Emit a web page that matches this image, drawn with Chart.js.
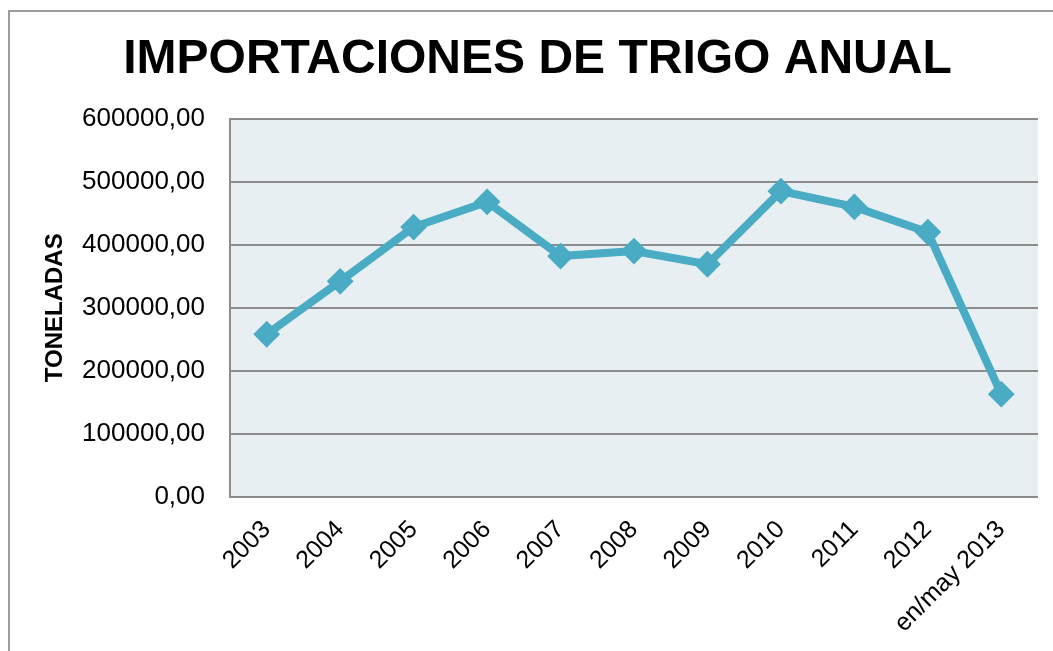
<!DOCTYPE html>
<html>
<head>
<meta charset="utf-8">
<script src="https://cdn.jsdelivr.net/npm/chart.js@4"></script>
<style>
  html, body { margin: 0; padding: 0; background: #fff; overflow: hidden; }
  body { width: 1053px; height: 651px; position: relative; }
  #frame { position: absolute; left: 8px; top: 10px; width: 1100px; height: 700px;
           border-left: 2px solid #9c9c9c; border-top: 2px solid #9c9c9c; }
  #wrap { position: absolute; left: 23px; top: 0; width: 1029px; height: 651px; }
</style>
</head>
<body>
<div id="frame"></div>
<div id="wrap"><canvas id="lineChart" width="1029" height="651"></canvas></div>
<script>
const years = ["2003", "2004", "2005", "2006", "2007", "2008", "2009", "2010", "2011", "2012", "en/may 2013"];
const toneladas = [258000, 342000, 428000, 468000, 382000, 390000, 369000, 485000, 460000, 420000, 163000];
const yTicks = [0, 100000, 200000, 300000, 400000, 500000, 600000];

const myChart = document.getElementById("lineChart");

// fondo gris azulado del area de trazado
const plotBg = {
  id: "plotBg",
  beforeDraw(chart) {
    const { ctx, chartArea } = chart;
    ctx.save();
    ctx.fillStyle = "#e8eff3";
    ctx.fillRect(chartArea.left, chartArea.top, chartArea.right - chartArea.left, chartArea.bottom - chartArea.top);
    ctx.restore();
  },
};

new Chart(myChart, {
  type: "line",
  data: {
    labels: years,
    datasets: [
      {
        label: "Toneladas",
        data: toneladas,
        borderColor: "#4aabc5",
        backgroundColor: "#4aabc5",
        borderWidth: 8,
        pointStyle: "rectRot",
        pointRadius: 12,
        pointBorderWidth: 2,
        pointBackgroundColor: "#4aabc5",
        pointBorderColor: "#4aabc5",
        tension: 0,
      },
    ],
  },
  options: {
    responsive: false,
    animation: false,
    layout: { padding: 0 },
    plugins: {
      legend: { display: false },
      tooltip: { enabled: false },
      title: {
        display: true,
        text: "IMPORTACIONES DE TRIGO ANUAL",
        color: "#000",
        font: { family: "'Liberation Sans', Arial, sans-serif", size: 48, weight: "bold" },
        padding: { top: 31, bottom: 30 },
      },
    },
    scales: {
      x: {
        offset: true,
        grid: { display: false },
        border: { display: false },
        ticks: {
          autoSkip: false,
          maxRotation: 45,
          minRotation: 45,
          padding: 10,
          color: "#000",
          font: { family: "'Liberation Sans', Arial, sans-serif", size: 25 },
        },
        afterFit(scale) {
          scale.height = 154;
        },
      },
      y: {
        min: 0,
        max: 600000,
        afterBuildTicks(scale) {
          scale.ticks = yTicks.map((v) => ({ value: v }));
        },
        grid: { color: "#8c8c8c", lineWidth: 2, drawTicks: false },
        border: { display: true, color: "#8c8c8c", width: 2 },
        ticks: {
          padding: 25,
          color: "#000",
          font: { family: "'Liberation Sans', Arial, sans-serif", size: 26 },
          callback: (v) => v.toFixed(2).replace(".", ","),
        },
        title: {
          display: true,
          text: "TONELADAS",
          color: "#000",
          font: { family: "'Liberation Sans', Arial, sans-serif", size: 24, weight: "bold" },
          padding: { top: 18, bottom: 0 },
        },
        afterFit(scale) {
          scale.width = 207;
        },
      },
    },
  },
  plugins: [plotBg],
});
</script>
</body>
</html>
